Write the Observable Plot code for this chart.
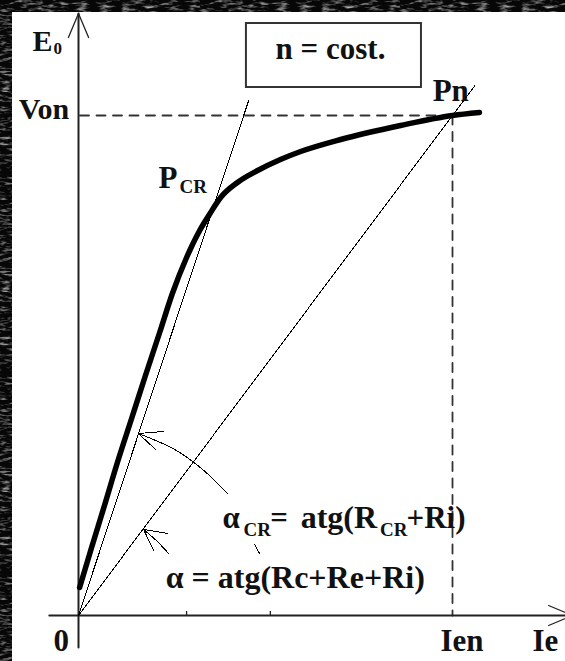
<!DOCTYPE html>
<html>
<head>
<meta charset="utf-8">
<script src="https://cdn.jsdelivr.net/npm/d3@7"></script>
<script src="https://cdn.jsdelivr.net/npm/@observablehq/plot@0.6"></script>
<style>
  html, body { margin: 0; padding: 0; background: #fff; overflow: hidden; }
  body { position: relative; width: 565px; height: 661px; }
  .band {
    position: absolute;
    background-color: #070707;
    background-image: url("data:image/svg+xml,%3Csvg xmlns='http://www.w3.org/2000/svg' width='200' height='200'%3E%3Cfilter id='n'%3E%3CfeTurbulence type='fractalNoise' baseFrequency='0.09 0.35' numOctaves='3' seed='4'/%3E%3CfeColorMatrix values='0 0 0 0 0.55 0 0 0 0 0.55 0 0 0 0 0.55 0 0 0 2.2 -1.05'/%3E%3C/filter%3E%3Crect width='200' height='200' filter='url(%23n)'/%3E%3C/svg%3E");
  }
  #band-top { left: 0; top: 0; width: 565px; height: 12px; }
  #band-left { left: 0; top: 0; width: 12px; height: 661px; }
  #chart { position: absolute; left: 0; top: 0; width: 565px; height: 661px; }
</style>
</head>
<body>
<div class="band" id="band-top"></div>
<div class="band" id="band-left"></div>
<div id="chart"></div>
<script>
// No-load characteristic E0(Ie) of a self-excited DC generator at constant speed.
// Units: excitation current Ie and e.m.f. E0 in percent of the rated point (Ien, Von).
const curveIe = [0.3, 3.5, 6.7, 10.4, 14.2, 17.9, 21.7, 25.1, 28.9, 32.4, 35.0, 38.0, 42.5, 47.9, 54.0, 59.4, 70.1, 86.1, 100, 107.2];
const curveE0 = [5.6, 13.6, 21.4, 30.6, 39.4, 48.0, 56.6, 64.4, 71.6, 77.0, 80.2, 83.6, 86.6, 89.0, 91.2, 92.8, 95.2, 98.0, 100, 100.6];

// Rated point Pn
const ratedIe = 100;
const ratedE0 = 100;

// Critical-resistance line (tangent at P_CR) and field-circuit line through Pn
const criticalLine = [[0, 0], [45.5, 103]];
const fieldLine = [[0, 0], [106, 106]];

// Axes with their open arrowheads
const xAxisLine = [[-7.8, 0], [130.2, 0]];
const yAxisLine = [[0, -6.4], [0, 120.4]];
const yArrow = [[-2.7, 115.6], [0, 120.4], [2.7, 115.6]];
const xArrow = [[125.7, 2], [132.1, 0], [125.7, -2]];
const xTicks = [28.9, 51.3];

// Angle markers (arcs about the origin), broken where the formulas sit
const arcCritical = [
  [[16.0, 36.4], [25.7, 33.2], [32.9, 29.4], [39.8, 24.4]],
  [[47.1, 14.2], [48.4, 12.4]]
];
const arcField = [
  [[17.4, 17.2], [20.8, 15.0], [24.1, 12.4]]
];
const arrowCritical = [[22.7, 36.8], [16.0, 36.4], [20.6, 33.2]];
const arrowField = [[23.8, 16.4], [17.4, 17.2], [20.1, 13.0]];

// Box with the running condition
const noteBox = {x1: 44.9, x2: 91.7, y1: 105.6, y2: 118.4};

// Text: [string, Ie, E0, size] placed at the start of the baseline
const mainText = [
  ["E", -12.3, 113.0, 30],
  ["Von", -16.0, 99.4, 30],
  ["n = cost.", 52.7, 111.4, 31],
  ["Pn", 94.7, 103.0, 31],
  ["P", 21.4, 85.6, 31],
  ["α", 38.5, 17.6, 31],
  ["=", 51.3, 17.6, 31],
  ["atg(R", 59.4, 17.6, 32],
  ["+Ri)", 87.7, 17.6, 31],
  ["α = atg(Rc+Re+Ri)", 23.3, 5.6, 32],
  ["0", -6.7, -7.0, 31],
  ["Ien", 96.8, -7.0, 31],
  ["Ie", 121.4, -7.0, 31]
];
const subText = [
  ["0", -6.7, 112.4, 17],
  ["CR", 27.0, 84.6, 19],
  ["CR", 44.1, 16.0, 19],
  ["CR", 80.6, 16.0, 19]
];

const curve = curveIe.map((ie, i) => ({ie, e0: curveE0[i]}));
const pts = (arr) => arr.map(([ie, e0]) => ({ie, e0}));
const segs = (list) => list.flatMap((s, k) => s.map(([ie, e0]) => ({k, ie, e0})));

const serif = "Liberation Serif, Times New Roman, serif";
const ink = "#111";
const thin = {x: "ie", y: "e0", stroke: "#000", strokeWidth: 1, shapeRendering: "crispEdges"};

const chart = Plot.plot({
  width: 565,
  height: 661,
  style: {background: "transparent"},
  x: {domain: [0, 100], range: [78, 452], axis: null},
  y: {domain: [0, 100], range: [615, 115], axis: null},
  marks: [
    // rated point guides
    Plot.line(pts([[0.4, ratedE0], [ratedIe, ratedE0]]), {x: "ie", y: "e0", stroke: "#333", strokeWidth: 1.8, strokeDasharray: "9,7.5"}),
    Plot.line(pts([[ratedIe, ratedE0], [ratedIe, 0]]), {x: "ie", y: "e0", stroke: "#333", strokeWidth: 1.8, strokeDasharray: "9,7.5"}),
    // axes
    Plot.line(pts(xAxisLine), {x: "ie", y: "e0", stroke: "#222", strokeWidth: 2}),
    Plot.line(pts(yAxisLine), {x: "ie", y: "e0", stroke: "#222", strokeWidth: 2}),
    Plot.line(pts(yArrow), {x: "ie", y: "e0", stroke: "#222", strokeWidth: 1.3}),
    Plot.line(pts(xArrow), {x: "ie", y: "e0", stroke: "#222", strokeWidth: 1.3}),
    Plot.ruleX(xTicks, {x: d => d, y1: 0, y2: 0.8, stroke: "#222", strokeWidth: 1.3}),
    // resistance lines
    Plot.line(pts(criticalLine), thin),
    Plot.line(pts(fieldLine), thin),
    // angle markers
    Plot.line(segs(arcCritical), {...thin, z: "k", curve: "catmull-rom"}),
    Plot.line(segs(arcField), {...thin, z: "k", curve: "catmull-rom"}),
    Plot.line(pts(arrowCritical), thin),
    Plot.line(pts(arrowField), thin),
    // magnetization curve
    Plot.line(curve, {x: "ie", y: "e0", curve: "monotone-x", stroke: "#000", strokeWidth: 5.5, strokeLinejoin: "round"}),
    // condition box
    Plot.rect([noteBox], {x1: "x1", x2: "x2", y1: "y1", y2: "y2", fill: "none", stroke: "#333", strokeWidth: 2}),
    // labels
    Plot.text(mainText, {x: d => d[1], y: d => d[2], text: d => d[0], fontSize: d => d[3], textAnchor: "start", lineAnchor: "bottom",
      fontFamily: serif, fontWeight: "bold", fill: ink}),
    Plot.text(subText, {x: d => d[1], y: d => d[2], text: d => d[0], fontSize: d => d[3], textAnchor: "start", lineAnchor: "bottom",
      fontFamily: serif, fontWeight: "bold", fill: ink})
  ]
});

document.getElementById("chart").appendChild(chart);
</script>
</body>
</html>
